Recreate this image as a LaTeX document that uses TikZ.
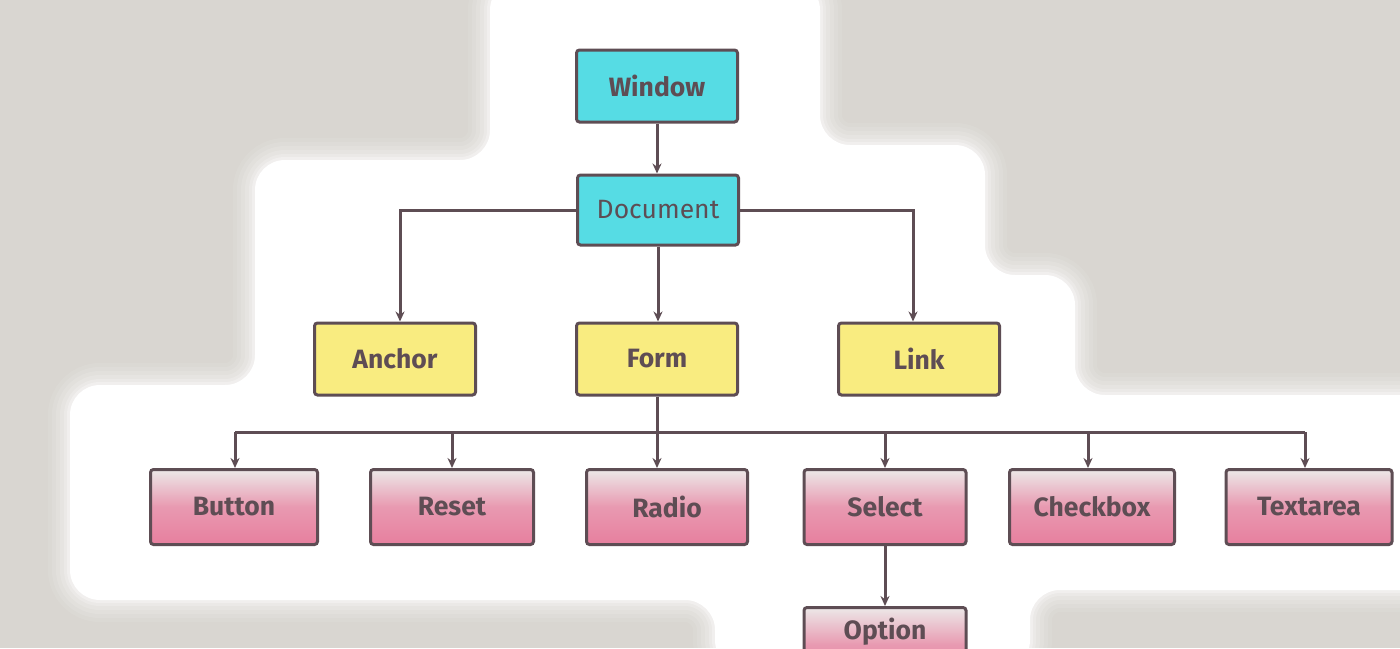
\documentclass[tikz,border=0pt]{standalone}
\usepackage{fontspec}
\setmainfont{Fira Sans}
\usetikzlibrary{arrows.meta}
\definecolor{bgc}{HTML}{D9D6D1}
\definecolor{ink}{HTML}{5E4D54}
\definecolor{cyanf}{HTML}{56DCE4}
\definecolor{yellf}{HTML}{F9EC80}
\definecolor{pinkf}{HTML}{E77F9E}
\definecolor{paleg}{HTML}{ECE8E8}
\tikzset{
  box/.style={draw=ink, line width=3pt, rounded corners=3pt, minimum height=72pt,
    inner sep=0pt, text=ink, font=\fontsize{26.5}{30}\selectfont\bfseries},
  bluebox/.style={box, fill=cyanf, minimum width=161pt},
  yellbox/.style={box, fill=yellf, minimum width=161pt},
  pinkbox/.style={box, top color=paleg, bottom color=pinkf, middle color=pinkf!75!paleg, minimum height=75pt},
  conn/.style={draw=ink, line width=3pt},
  arr/.style={conn, -{Stealth[length=10pt,width=9pt]}},
}
\begin{document}
\begin{tikzpicture}[x=1pt,y=-1pt]
\useasboundingbox (0,0) rectangle (1400,648);
\fill[bgc] (0,0) rectangle (1400,648);
% white backdrop
\def\blob{(490,-20) -- (820,-20) -- (820,145) -- (985,145) -- (985,275) -- (1075,275) -- (1075,395) -- (1430,395) -- (1430,590) -- (1030,590) -- (1030,670) -- (715,670) -- (715,600) -- (70,600) -- (70,385) -- (255,385) -- (255,160) -- (490,160) -- cycle}
\foreach \w/\o in {44/0.08, 36/0.1, 28/0.12, 20/0.15, 12/0.2, 6/0.3}
  \draw[white, line width=\w pt, rounded corners=30pt, opacity=\o] \blob;
\fill[white, rounded corners=30pt] \blob;

% nodes
\node[bluebox] (window) at (657,86) {Window};
\node[bluebox, minimum height=70pt, font=\fontsize{26.5}{30}\selectfont] (document) at (658,210) {Document};
\node[yellbox] (anchor) at (395,359) {Anchor};
\node[yellbox] (form) at (657,359) {Form};
\node[yellbox] (link) at (919,359) {Link};
\node[pinkbox, minimum width=167pt] (button) at (234,507) {Button};
\node[pinkbox, minimum width=163pt] (reset) at (452,507) {Reset};
\node[pinkbox, minimum width=161pt] (radio) at (667,507) {Radio};
\node[pinkbox, minimum width=162pt] (select) at (885,507) {Select};
\node[pinkbox, minimum width=165pt] (checkbox) at (1092,507) {Checkbox};
\node[pinkbox, minimum width=166pt] (textarea) at (1309,507) {Textarea};
\node[pinkbox, minimum width=162pt, text height=18pt, text depth=29pt] (option) at (885,645) {Option};

% connectors
\coordinate (bus) at (0,432);
\draw[arr] (window.south) -- (window.south |- document.north);
\draw[arr] (document.west) -| ([xshift=5pt]anchor.north);
\draw[arr] (document.east) -| ([xshift=-6pt]link.north);
\draw[arr] (document.south) -- (document.south |- form.north);
\draw[conn] (form.south) -- (form.south |- bus);
\draw[conn] ([xshift=1pt]button.north |- bus) -- ([xshift=-4pt]textarea.north |- bus);
\draw[arr] (form.south |- bus) -- (form.south |- radio.north);
\draw[arr] ([xshift=1pt]button.north |- bus) -- ([xshift=1pt]button.north);
\draw[arr] (reset.north |- bus) -- (reset.north);
\draw[arr] (select.north |- bus) -- (select.north);
\draw[arr] ([xshift=-4pt]checkbox.north |- bus) -- ([xshift=-4pt]checkbox.north);
\draw[arr] ([xshift=-4pt]textarea.north |- bus) -- ([xshift=-4pt]textarea.north);
\draw[arr] (select.south) -- (option.north);
\end{tikzpicture}
\end{document}
